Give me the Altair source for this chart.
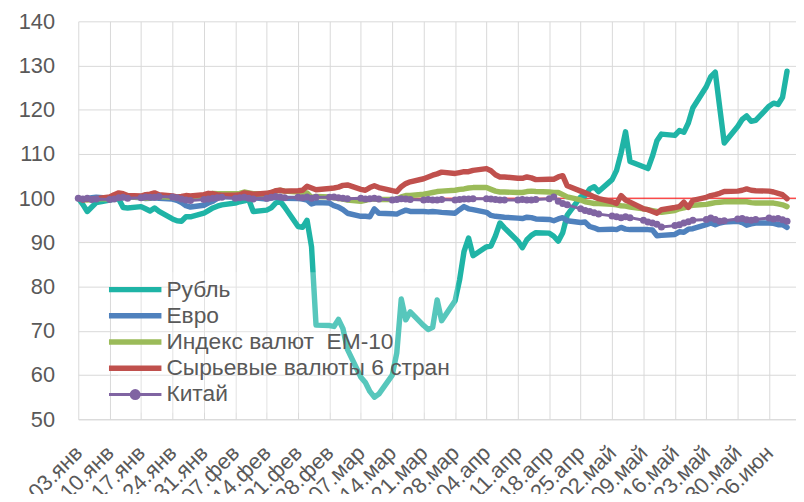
import altair as alt
import pandas as pd

# ---------------- data ----------------
dates = [d.strftime("%Y-%m-%dT00:00:00") for d in pd.bdate_range("2022-01-03", "2022-06-10")]
tick_dates = [d for d in pd.date_range("2022-01-03", "2022-06-06", freq="7D")]
month_names = ["янв", "фев", "мар", "апр", "май", "июн"]

series_names = ["Рубль", "Евро", "Индекс валют\u00a0 EM-10", "Сырьевые валюты 6 стран", "Китай"]
series_colors = ["#1FB4A6", "#4F81BD", "#9BBB59", "#C0504D", "#8064A2"]

rub = [100.0, 98.6, 97.0, 98.0, 99.0,
       99.6, 99.8, 99.9, 97.9, 97.8,
       98.1, 97.6, 97.1, 97.8, 97.0,
       95.3, 94.9, 94.8, 95.8, 95.8,
       96.6, 97.2, 97.8, 98.2, 98.5,
       98.9, 99.2, 99.4, 99.7, 97.0,
       97.3, 97.8, 98.9, 99.3, 98.0,
       93.6, 93.4, 95.0, 89.0, 71.3,
       71.2, 71.0, 72.6, 70.5, 65.8,
       59.5, 58.3, 56.3, 55.0, 55.7,
       60.0, 65.0, 77.2, 72.5, 74.3,
       71.2, 70.3, 70.8, 77.0, 72.3,
       76.8, 81.5, 88.0, 91.0, 87.0,
       89.0, 89.2, 91.5, 94.4, 93.3,
       90.3, 88.8, 90.6, 91.6, 92.2,
       92.1, 91.4, 90.3, 92.2, 96.2,
       100.3, 100.6, 102.1, 102.6, 101.5,
       104.2, 106.3, 110.2, 115.0, 108.3,
       107.1, 106.7, 109.5, 113.0, 114.5,
       114.2, 115.3, 114.9, 117.0, 120.4,
       125.2, 127.5, 128.5, 120.5, 112.5,
       116.2, 117.8, 118.6, 117.4, 117.6,
       120.8, 121.5, 121.2, 122.8, 128.7]

eur = [100.0, 99.7, 99.9, 100.1, 100.2,
       100.0, 100.2, 100.5, 100.6, 100.3,
       100.1, 99.9, 100.0, 100.1, 100.0,
       99.8, 99.5, 99.0, 98.3, 98.0,
       98.4, 98.9, 99.3, 100.0, 100.3,
       100.3, 100.2, 100.4, 100.5, 100.1,
       99.8, 100.0, 100.2, 100.1, 100.0,
       99.9, 99.8, 99.6, 98.7, 99.0,
       98.9, 98.3, 98.0, 97.4, 96.6,
       95.9, 95.9, 95.8, 97.6, 96.6,
       96.5, 96.4, 96.9, 97.3, 97.0,
       97.0, 96.9, 97.0, 96.9, 96.8,
       96.6, 97.4, 98.1, 97.6, 97.4,
       96.8, 96.1, 95.9, 95.8, 95.7,
       95.5, 95.4, 95.7, 95.6, 95.3,
       95.2, 94.9, 95.3, 95.6, 94.9,
       94.5, 94.6, 93.6, 93.3, 92.9,
       93.0, 92.9, 93.4, 93.0, 92.9,
       92.9, 92.9, 92.8, 91.5, 91.6,
       91.8, 92.4, 92.3, 93.0, 93.1,
       94.0, 94.4, 94.0, 94.4, 94.6,
       94.8, 94.5, 93.9, 94.2, 94.4,
       94.4, 94.3, 94.0, 94.0, 93.4]

em10 = [100.0, 99.8, 99.6, 99.7, 99.9,
        99.8, 100.1, 100.4, 100.5, 100.3,
        100.2, 100.0, 100.1, 100.3, 100.4,
        100.2, 100.0, 99.9, 100.0, 100.2,
        100.5, 100.8, 101.1, 101.0, 101.0,
        101.0, 101.1, 101.4, 101.2, 101.0,
        101.0, 101.2, 101.6, 101.8, 101.6,
        101.4, 101.3, 101.2, 100.2, 100.4,
        100.3, 100.1, 99.9, 99.8, 99.6,
        99.3, 99.5, 99.8, 99.8, 99.7,
        99.7, 99.8, 100.3, 100.6, 100.6,
        100.9, 101.1, 101.3, 101.5, 101.6,
        101.8, 102.0, 102.1, 102.3, 102.4,
        102.4, 102.0, 101.6, 101.4, 101.4,
        101.3, 101.3, 101.5, 101.6, 101.5,
        101.4, 101.3, 101.3, 100.8, 100.3,
        99.6, 99.2, 99.0, 98.8, 98.8,
        98.6, 98.5, 98.3, 98.2, 98.0,
        97.6, 97.4, 97.2, 97.0, 96.8,
        97.2, 97.6, 97.8, 98.2, 98.4,
        98.6, 98.8, 99.0, 99.1, 99.2,
        99.2, 99.2, 99.2, 99.0, 98.9,
        98.9, 98.9, 98.7, 98.5, 98.1]

comm6 = [100.0, 99.6, 99.8, 99.7, 99.9,
         100.3, 100.8, 101.2, 101.0, 100.6,
         100.5, 100.8, 100.9, 101.2, 100.8,
         100.5, 100.3, 100.4, 100.6, 100.5,
         100.8, 101.1, 101.0, 100.8, 100.7,
         100.7, 100.8, 101.2, 101.1, 100.9,
         101.1, 101.3, 101.7, 101.8, 101.6,
         101.7, 101.8, 102.7, 102.3, 101.9,
         102.2, 102.3, 102.5, 102.9, 103.0,
         102.0, 101.8, 102.4, 102.8, 102.4,
         101.7, 101.5, 102.6, 103.3, 103.7,
         104.4, 104.8, 105.2, 105.5, 105.9,
         105.6, 105.8, 106.0, 106.0, 106.3,
         106.7, 106.2, 105.3, 104.8, 104.8,
         104.5, 104.5, 104.8, 104.6, 104.2,
         104.3, 104.3, 104.8, 105.1, 102.8,
         101.6, 101.2, 100.8, 100.3, 99.9,
         99.2, 98.8, 100.6, 99.6, 99.1,
         97.6, 97.4, 97.0, 96.6, 97.4,
         97.9, 98.1, 99.1, 97.9, 99.5,
         100.2, 100.6, 100.8, 101.1, 101.5,
         101.6, 101.8, 102.1, 101.8, 101.7,
         101.6, 101.4, 101.1, 100.8, 99.9]

china = [100.0, 99.8, 100.0, 99.7, 99.8,
         99.7, 99.8, 100.1, 100.2, 100.0,
         100.1, 100.3, 100.2, 100.2, 100.4,
         100.3, 100.1, 99.8, 99.6, 99.5,
         99.7, 99.8, 100.0, 100.1, 100.2,
         100.0, 100.1, 100.2, 100.0, 99.8,
         100.0, 100.2, 100.4, 100.3, 100.1,
         100.2, 100.1, 100.3, 100.0, 100.2,
         100.2, 100.3, 100.1, 100.0, 99.9,
         100.0, 99.8, 99.9, 100.0, 99.8,
         99.6, 99.7, 99.9, 99.8, 99.7,
         99.6, 99.7, 99.6, 99.6, 99.7,
         99.6, 99.7, 99.8, 99.8, 99.9,
         99.9, 99.8, 99.7, 99.6, 99.6,
         99.6, 99.7, 99.6, 99.6, 99.7,
         99.9, 100.3, 99.3, 98.8, 98.5,
         97.6, 97.2, 97.0, 96.7, 96.4,
         96.0, 95.8, 95.6, 95.8, 95.6,
         95.0, 94.6, 94.4, 94.1, 93.5,
         93.8, 94.0, 94.4, 94.7, 95.0,
         95.2, 95.5, 95.2, 94.8, 94.9,
         95.3, 95.4, 95.1, 95.0, 95.2,
         95.5, 95.3, 95.4, 95.1, 94.8]

baseline = [100]
y_ticks = [50, 60, 70, 80, 90, 100, 110, 120, 130, 140]

# ---------------- table ----------------
all_values = [rub, eur, em10, comm6, china]
rows = []
for name, vals in zip(series_names, all_values):
    for d, v in zip(dates, vals):
        rows.append({"date": d, "series": name, "value": v})
df = pd.DataFrame(rows)

FONT = "Liberation Sans"
GRID = "#D9D9D9"
TXT = "#595959"


def dt(ts):
    return alt.DateTime(year=ts.year, month=ts.month, date=ts.day)


month_arr = "[" + ",".join("'%s'" % m for m in month_names) + "]"

x_enc = alt.X(
    "date:T",
    scale=alt.Scale(domain=[dt(pd.Timestamp("2022-01-03")), dt(pd.Timestamp("2022-06-12"))]),
    axis=alt.Axis(
        title=None,
        values=[dt(t) for t in tick_dates],
        labelExpr="timeFormat(datum.value, '%d') + '.' + " + month_arr + "[month(datum.value)]",
        labelAngle=-45,
        labelAlign="right",
        labelBaseline="middle",
        labelPadding=30,
        labelOffset=0,
        labelFont=FONT,
        labelFontSize=22,
        labelColor=TXT,
        labelOverlap=False,
        labelBound=False,
        labelFlush=False,
        grid=True,
        gridColor=GRID,
        gridWidth=1,
        ticks=False,
        tickSize=0,
        domain=True,
        domainColor=GRID,
        domainWidth=1,
    ),
)

y_axis = alt.Axis(
    title=None,
    values=y_ticks,
    labelPadding=24,
    labelFont=FONT,
    labelFontSize=22,
    labelColor=TXT,
    grid=True,
    gridColor=GRID,
    gridWidth=1,
    ticks=False,
    tickSize=0,
    domain=False,
)
y_scale = alt.Scale(domain=[50, 140], nice=False, zero=False)
y_enc = alt.Y("value:Q", scale=y_scale, axis=y_axis)

# legend symbols: size 324 -> unit scale 9px; line half-length 26.5px
line_sym = "M-2.944,0L2.944,0"
china_sym = "M-2.944,0L2.944,0M-0.45,0A0.45,0.45,0,1,0,0.45,0A0.45,0.45,0,1,0,-0.45,0Z"
legend = alt.Legend(
    title=None,
    orient="none",
    legendX=40,
    legendY=253.5,
    direction="vertical",
    symbolType={"expr": "datum.value === 'Китай' ? '" + china_sym + "' : '" + line_sym + "'"},
    symbolStrokeWidth={"expr": "datum.value === 'Китай' ? 3 : 5.5"},
    symbolSize=324,
    symbolFillColor="#8064A2",
    rowPadding=2.5,
    labelOffset=20,
    padding=6,
    fillColor="rgba(255,255,255,0.25)",
    labelFont=FONT,
    labelFontSize=23,
    labelColor=TXT,
    labelLimit=500,
)
color_enc = alt.Color(
    "series:N",
    scale=alt.Scale(domain=series_names, range=series_colors),
    legend=legend,
)

rule = alt.Chart(pd.DataFrame({"value": baseline})).mark_rule(
    color="#FF0000", strokeWidth=1
).encode(y=alt.Y("value:Q", scale=y_scale, axis=y_axis))

base = alt.Chart(df)
layers = [rule]
for name in series_names:
    sw = 3 if name == "Китай" else 5.5
    layers.append(
        base.transform_filter(alt.datum.series == name)
        .mark_line(strokeWidth=sw, strokeJoin="round", strokeCap="round")
        .encode(x=x_enc, y=y_enc, color=color_enc)
    )
layers.append(
    base.transform_filter(alt.datum.series == "Китай")
    .mark_point(filled=True, size=50, opacity=1)
    .encode(x=x_enc, y=y_enc, color=alt.value("#8064A2"))
)

chart = (
    alt.layer(*layers)
    .properties(
        width=725,
        height=402,
        autosize=alt.AutoSizeParams(type="none"),
        padding={"left": 71, "top": 11, "right": 0, "bottom": 73},
        background="white",
    )
    .configure_view(strokeWidth=0)
)

chart.save("out.html", embed_options={"renderer": "svg", "actions": False})
